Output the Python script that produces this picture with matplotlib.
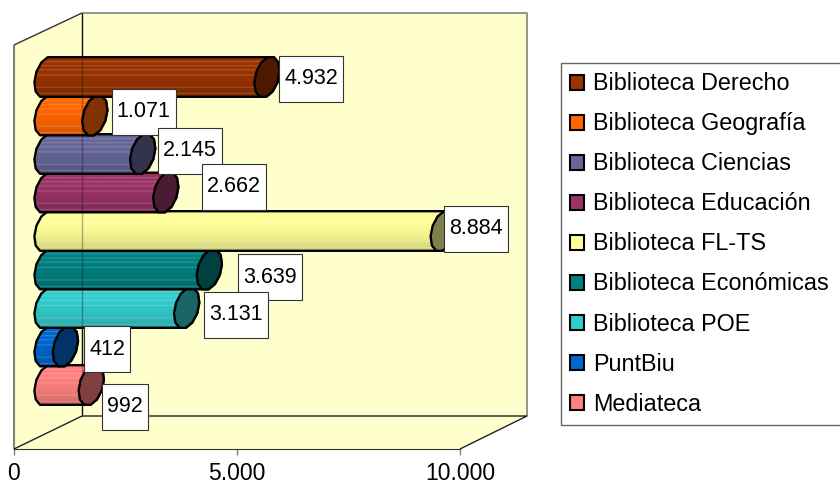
import numpy as np
import matplotlib
matplotlib.use("Agg")
import matplotlib.pyplot as plt
from matplotlib.patches import Polygon, Rectangle
from matplotlib.ticker import FuncFormatter

plt.rcParams['font.family'] = ['Liberation Sans', 'DejaVu Sans']

# Data, top bar first
names = ["Biblioteca Derecho", "Biblioteca Geografía", "Biblioteca Ciencias",
         "Biblioteca Educación", "Biblioteca FL-TS", "Biblioteca Económicas",
         "Biblioteca POE", "PuntBiu", "Mediateca"]
values = [4932, 1071, 2145, 2662, 8884, 3639, 3131, 412, 992]
colors = ["#993300", "#FF6600", "#666699", "#993366", "#FFFF99",
          "#008080", "#33CCCC", "#0066CC", "#FF8080"]
x_ticks = [0, 5000, 10000]

# Label box offset from the bar end, pixels
label_dx = [44, 49, 47, 68, 33, 61, 49, 42, 34]
label_dy = [2, -4, -3, -6, -2, 8, 7, 3, 22]

W, H = 840, 483
PX_PER_UNIT = 446 / 10000
ROW = 38.5
ROW0 = 77


def px_x(p):
    return (p - 14) / PX_PER_UNIT


def px_y(p):
    return (p - ROW0) / ROW


fig = plt.figure(figsize=(W / 100, H / 100), dpi=100)
ax = fig.add_axes([14 / W, 1 - 449 / H, 446 / W, 404 / H])
ax.patch.set_visible(False)
ax.set_xlim(0, 10000)
ax.set_ylim(px_y(449), px_y(45))
for s in ["left", "right", "top"]:
    ax.spines[s].set_visible(False)
ax.spines["bottom"].set_color("#333333")
ax.set_yticks([])
ax.set_xticks(x_ticks)
ax.xaxis.set_major_formatter(FuncFormatter(lambda v, _: f"{int(v):,}".replace(",", ".")))
ax.tick_params(axis="x", length=4, width=1, color="#808080", labelsize=16.5, pad=5,
               labelcolor="black")


def chrome_line(xs, ys, color, lw=1.0, z=1):
    ax.plot([px_x(a) for a in xs], [px_y(b) for b in ys], color=color, lw=lw,
            zorder=z, clip_on=False, solid_capstyle="butt")


# Walls and floor
wall = [(14, 45), (82, 13), (527, 13), (527, 416), (460, 449), (14, 449)]
ax.add_patch(Polygon([(px_x(a), px_y(b)) for a, b in wall], closed=True,
                     facecolor="#FFFFCC", edgecolor="none", zorder=0, clip_on=False))
chrome_line([14, 14], [45, 449], "#808080", 1.5)
chrome_line([82, 527, 527], [13, 13, 416], "#808080", 1.2)
chrome_line([14, 82], [45, 13], "#333333")
chrome_line([82, 82], [13, 416], "#111111")
chrome_line([14, 82, 527, 460], [449, 416, 416, 449], "#222222")


def cap_points(cx, cy, half, n):
    # low-poly tilted ellipse, gives the rough outline of the cylinder ends
    t = np.linspace(0, 2 * np.pi, n, endpoint=False) + np.pi / n
    return cx + 12 * np.cos(t) - 4 * np.sin(t), cy + half * np.sin(t)


def body_image(color):
    rgb = np.array(matplotlib.colors.to_rgb(color))
    shade = np.interp(np.linspace(0, 1, 40), [0, 0.35, 0.7, 1], [1.0, 1.0, 0.93, 0.82])
    img = np.outer(shade, rgb)
    for r in [5, 9, 13, 18, 30, 36]:
        img[r] = img[r] * 0.82 + 0.18
    return np.clip(img, 0, 1)


# Bars, lowest first so the upper ones sit on top
for i in range(len(values) - 1, -1, -1):
    x0 = 47
    x1 = 47 + values[i] * PX_PER_UNIT
    cy = ROW0 + ROW * i
    half = 20.5
    z = 3 + (len(values) - i) * 0.1

    lx, ly = cap_points(x0, cy, half, 12)
    rx, ry = cap_points(x1, cy, half, 12)
    left_side = np.cos(np.linspace(0, 2 * np.pi, 12, endpoint=False) + np.pi / 12) < 0
    order = np.argsort(ly[left_side])
    top_to_bottom = list(zip(lx[left_side][order], ly[left_side][order]))
    right_side = ~left_side
    order = np.argsort(-ry[right_side])
    bottom_to_top = list(zip(rx[right_side][order], ry[right_side][order]))
    outline = [(px_x(a), px_y(b)) for a, b in top_to_bottom + bottom_to_top]

    body = Polygon(outline, closed=True, facecolor="none", edgecolor="black", lw=1.7,
                   zorder=z + 0.02, clip_on=False, joinstyle="round")
    ax.add_patch(body)
    im = ax.imshow(body_image(colors[i])[:, None, :], aspect="auto", zorder=z,
                   extent=(px_x(30), px_x(x1 + 16), px_y(cy + half), px_y(cy - half)),
                   interpolation="bilinear", clip_on=True)
    im.set_clip_path(body)

    cap_color = np.array(matplotlib.colors.to_rgb(colors[i])) * 0.5
    ax.add_patch(Polygon([(px_x(a), px_y(b)) for a, b in zip(rx, ry)], closed=True,
                         facecolor=cap_color, edgecolor="black", lw=1.7,
                         zorder=z + 0.03, clip_on=False))

ax.set_xlim(0, 10000)
ax.set_ylim(px_y(449), px_y(45))

# Back wall edge shows faintly through the bars
ax.plot([px_x(82), px_x(82)], [px_y(56), px_y(372)], color="black", lw=1, alpha=0.3,
        zorder=5, clip_on=False)

# Value labels
for i, v in enumerate(values):
    bx = 47 + v * PX_PER_UNIT + label_dx[i]
    by = ROW0 + ROW * i + label_dy[i]
    w = 64 if v >= 1000 else 46
    ax.add_patch(Rectangle((px_x(bx - w / 2), px_y(by - 23)), w / PX_PER_UNIT, 46 / ROW,
                           facecolor="white", edgecolor="#333333", lw=0.8, zorder=7,
                           clip_on=False))
    ax.text(px_x(bx), px_y(by), f"{v:,}".replace(",", "."), ha="center", va="center",
            fontsize=15.5, zorder=8, clip_on=False)

# Legend, its frame runs off the right edge of the picture
handles = [Rectangle((0, 0), 1, 1, facecolor=c, edgecolor="black", lw=1.5) for c in colors]
leg = fig.legend(handles, names, loc="upper left", mode="expand",
                 bbox_to_anchor=(561 / W, 1 - 63 / H, 300 / W, 0),
                 bbox_transform=fig.transFigure,
                 fontsize=16.8, frameon=True, fancybox=False, edgecolor="#666666",
                 framealpha=1, borderaxespad=0, borderpad=0.40, labelspacing=0.73,
                 handlelength=0.6, handleheight=0.6, handletextpad=0.39)
leg.get_frame().set_linewidth(1)

fig.savefig("out.png", dpi=100)
